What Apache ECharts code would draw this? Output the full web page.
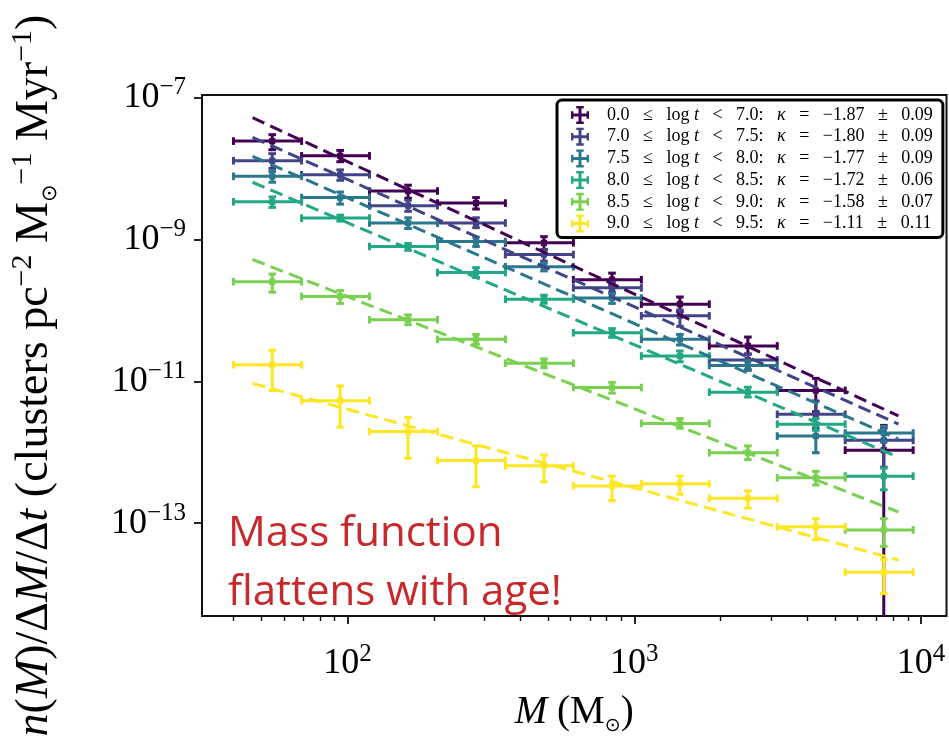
<!DOCTYPE html>
<html><head><meta charset="utf-8">
<script src="https://cdn.jsdelivr.net/npm/echarts@6/dist/echarts.min.js"></script>
<style>html,body{margin:0;padding:0;background:#fff}#c{width:949px;height:741px}</style>
</head><body><div id="c"></div><script>
// ---- data ----
const binEdges   = [40, 69.1, 119.2, 205.8, 355.1, 613, 1058, 1826, 3151, 5438, 9385];
const binCenters = [54.6, 94.2, 162.5, 280.5, 484, 836, 1442, 2489, 4295, 7412];

const ageLo = ['0.0', '7.0', '7.5', '8.0', '8.5', '9.0'];
const ageHi = ['7.0', '7.5', '8.0', '8.5', '9.0', '9.5'];
const kappa    = ['1.87', '1.80', '1.77', '1.72', '1.58', '1.11'];
const kappaErr = ['0.09', '0.09', '0.09', '0.06', '0.07', '0.11'];

const val0 = [2.42e-8, 1.50e-8, 4.79e-9, 3.24e-9, 8.92e-10, 2.70e-10, 1.22e-10, 3.15e-11, 7.43e-12, 1.07e-12];
const hi0  = [2.98e-8, 1.79e-8, 5.79e-9, 3.87e-9, 1.09e-9, 3.34e-10, 1.54e-10, 4.2e-11, 1.10e-11, 2.39e-12];
const lo0  = [1.83e-8, 1.24e-8, 3.79e-9, 2.67e-9, 7.14e-10, 2.23e-10, 9.57e-11, 2.42e-11, 3.73e-12, 1e-17];

const val1 = [1.28e-8, 8.11e-9, 2.98e-9, 1.70e-9, 6.10e-10, 2.07e-10, 8.35e-11, 2.00e-11, 3.42e-12, 1.47e-12];
const hi1  = [1.61e-8, 9.51e-9, 3.56e-9, 2.01e-9, 7.14e-10, 2.48e-10, 1.01e-10, 2.42e-11, 5.29e-12, 2.18e-12];
const lo1  = [1.00e-8, 6.79e-9, 2.48e-9, 1.46e-9, 4.93e-10, 1.80e-10, 5.94e-11, 1.43e-11, 2.18e-12, 6.15e-13];

const val2 = [7.71e-9, 3.87e-9, 1.70e-9, 9.29e-10, 4.11e-10, 1.49e-10, 3.90e-11, 1.67e-11, 1.69e-12, 1.87e-12];
const hi2  = [9.03e-9, 4.64e-9, 2.01e-9, 1.07e-9, 4.67e-10, 1.71e-10, 4.57e-11, 1.94e-11, 2.47e-12, 2.32e-12];
const lo2  = [6.37e-9, 3.13e-9, 1.42e-9, 7.93e-10, 3.59e-10, 1.25e-10, 3.25e-11, 1.46e-11, 9.84e-13, 1.40e-12];

const val3 = [3.38e-9, 1.99e-9, 7.93e-10, 3.40e-10, 1.43e-10, 4.82e-11, 2.27e-11, 7.03e-12, 2.49e-12, 4.6e-13];
const hi3  = [3.96e-9, 2.19e-9, 8.72e-10, 3.99e-10, 1.63e-10, 5.52e-11, 2.67e-11, 8.24e-12, 2.99e-12, 5.98e-13];
const lo3  = [2.82e-9, 1.81e-9, 6.99e-10, 2.90e-10, 1.26e-10, 4.16e-11, 1.88e-11, 6.0e-12, 2.04e-12, 2.95e-13];

const val4 = [2.53e-10, 1.57e-10, 7.35e-11, 3.90e-11, 1.80e-11, 8.16e-12, 2.55e-12, 9.84e-13, 4.36e-13, 8.04e-14];
const hi4  = [3.24e-10, 1.90e-10, 8.61e-11, 4.57e-11, 2.07e-11, 9.66e-12, 2.99e-12, 1.23e-12, 5.38e-13, 1.16e-13];
const lo4  = [1.80e-10, 1.25e-10, 6.27e-11, 3.33e-11, 1.55e-11, 6.81e-12, 2.18e-12, 7.88e-13, 3.46e-13, 4.73e-14];

const val5 = [1.71e-11, 5.33e-12, 1.96e-12, 7.64e-13, 6.45e-13, 3.35e-13, 3.6e-13, 2.24e-13, 8.91e-14, 2.04e-14];
const hi5  = [2.75e-11, 8.59e-12, 3.08e-12, 1.23e-12, 9.15e-13, 4.6e-13, 4.6e-13, 2.86e-13, 1.16e-13, 3.1e-14];
const lo5  = [7.42e-12, 2.25e-12, 8.22e-13, 3.27e-13, 3.84e-13, 2.08e-13, 2.57e-13, 1.63e-13, 5.85e-14, 1.02e-14];

// power-law fit lines: end points
const fitX  = [46.6, 8337];
const fit0  = [5.17e-8, 3.25e-12];
const fit1  = [2.74e-8, 2.50e-12];
const fit2  = [1.48e-8, 1.53e-12];
const fit3  = [6.37e-9, 8.51e-13];
const fit4  = [5.2e-10, 1.44e-13];
const fit5  = [9.35e-12, 3.03e-14];

const xTicks = [100, 1000, 10000];
const xMinorTicks = [40, 50, 60, 70, 80, 90, 200, 300, 400, 500, 600, 700, 800, 900, 2000, 3000, 4000, 5000, 6000, 7000, 8000, 9000];
const yTicks = [1e-13, 1e-11, 1e-9, 1e-7];

// ---- styling ----
const COLORS = ['#440154', '#414487', '#2a788e', '#22a884', '#7ad151', '#fde725'];
const SERIF = '"Liberation Serif", "DejaVu Serif", serif';
const vals = [val0, val1, val2, val3, val4, val5];
const his  = [hi0, hi1, hi2, hi3, hi4, hi5];
const los  = [lo0, lo1, lo2, lo3, lo4, lo5];
const fits = [fit0, fit1, fit2, fit3, fit4, fit5];

const names = ageLo.map((lo, i) => lo + ' ≤ log t < ' + ageHi[i] + ': κ = −' + kappa[i] + ' ± ' + kappaErr[i]);

function renderErr(params, api) {
  const cs = params.coordSys;
  const top = cs.y, bot = cs.y + cs.height;
  const c = api.coord([api.value(0), api.value(1)]);
  const l = api.coord([api.value(2), api.value(1)]);
  const r = api.coord([api.value(3), api.value(1)]);
  const ylo = api.coord([api.value(0), api.value(4)])[1];
  const yhi = api.coord([api.value(0), api.value(5)])[1];
  const color = api.visual('color');
  const lw = 3, cap = 3.8, m = 3.1;
  const ln = (x1, y1, x2, y2) => ({type: 'line', shape: {x1, y1, x2, y2}, style: {stroke: color, lineWidth: lw}});
  const kids = [
    ln(l[0], c[1], r[0], c[1]),
    ln(c[0], Math.min(ylo, bot + 3), c[0], Math.max(yhi, top)),
    ln(l[0], c[1] - cap, l[0], c[1] + cap),
    ln(r[0], c[1] - cap, r[0], c[1] + cap)
  ];
  if (ylo <= bot) kids.push(ln(c[0] - cap, ylo, c[0] + cap, ylo));
  if (yhi >= top) kids.push(ln(c[0] - cap, yhi, c[0] + cap, yhi));
  kids.push({type: 'rect', shape: {x: c[0] - m, y: c[1] - m, width: 2 * m, height: 2 * m}, style: {fill: color}});
  return {type: 'group', children: kids};
}

const series = [];
vals.forEach((v, i) => {
  series.push({
    name: names[i], type: 'custom', renderItem: renderErr, clip: true,
    itemStyle: {color: COLORS[i]},
    encode: {x: [0, 2, 3], y: [1, 4, 5]},
    data: v.map((y, k) => [binCenters[k], y, binEdges[k], binEdges[k + 1], los[i][k], his[i][k]]),
    silent: true
  });
  series.push({
    name: 'fit ' + i, type: 'line', showSymbol: false, silent: true,
    data: fitX.map((x, k) => [x, fits[i][k]]),
    lineStyle: {color: COLORS[i], width: 3, type: [13, 6.5], cap: 'butt'},
    itemStyle: {color: COLORS[i]}
  });
});

const ICON = 'path://M5,0h2v12h-2z M0,5h12v2h-12z M3.5,0h5v1.6h-5z M3.5,10.4h5v1.6h-5z M0,3.5h1.6v5h-1.6z M10.4,3.5h1.6v5h-1.6z';

function powLabel(v) {
  const e = Math.round(Math.log10(v));
  return '{b|10}{s|' + (e < 0 ? '−' + (-e) : String(e)) + '}';
}
const tickRich = {
  b: {fontFamily: SERIF, fontSize: 36, lineHeight: 44, color: '#000'},
  s: {fontFamily: SERIF, fontSize: 25, lineHeight: 25, verticalAlign: 'top', color: '#000'}
};

const option = {
  animation: false,
  backgroundColor: '#fff',
  grid: {left: 200, top: 95, width: 746.5, height: 533, show: true, borderColor: '#111', borderWidth: 2, backgroundColor: 'transparent', containLabel: false},
  xAxis: [{
    type: 'log', logBase: 10, min: 31.06, max: 12266,
    position: 'bottom',
    axisLine: {show: false},
    splitLine: {show: false},
    axisTick: {show: true, inside: false, length: 8, customValues: xTicks, lineStyle: {color: '#111', width: 1.8}},
    axisLabel: {show: true, customValues: xTicks, formatter: powLabel, margin: 26, rich: tickRich},
    name: '{i|M}{n| (M}{sub|⊙}{n|)}',
    nameLocation: 'middle', nameGap: 74,
    nameTextStyle: {verticalAlign: 'top', rich: {
      i: {fontFamily: SERIF, fontStyle: 'italic', fontSize: 39, lineHeight: 46, color: '#000'},
      n: {fontFamily: SERIF, fontSize: 39, lineHeight: 46, color: '#000'},
      sub: {fontFamily: '"DejaVu Sans", sans-serif', fontSize: 19, lineHeight: 24, verticalAlign: 'bottom', color: '#000'}
    }}
  }, {
    type: 'log', logBase: 10, min: 31.06, max: 12266,
    position: 'bottom', gridIndex: 0,
    axisLine: {show: false}, splitLine: {show: false}, axisLabel: {show: false},
    axisTick: {show: true, inside: false, length: 5, customValues: xMinorTicks, lineStyle: {color: '#111', width: 1.4}}
  }],
  yAxis: {
    type: 'log', logBase: 10, min: 4.93e-15, max: 1.08e-7,
    axisLine: {show: false},
    splitLine: {show: false},
    axisTick: {show: true, inside: false, length: 8, customValues: yTicks, lineStyle: {color: '#111', width: 1.8}},
    axisLabel: {show: true, customValues: yTicks, formatter: powLabel, margin: 16, rich: tickRich},
    name: '{i|n}{n|(}{i|M}{n|)/Δ}{i|M}{n|/Δ}{i|t}{n| (clusters pc}{s|−2}{n| M}{sub|⊙}{s|−1}{n| Myr}{s|−1}{n|)}',
    nameLocation: 'middle', nameGap: 141, nameRotate: 90,
    nameTextStyle: {padding: [0, 40, 0, 0], rich: {
      i: {fontFamily: SERIF, fontStyle: 'italic', fontSize: 46, lineHeight: 53, color: '#000'},
      n: {fontFamily: SERIF, fontSize: 46, lineHeight: 53, color: '#000'},
      s: {fontFamily: SERIF, fontSize: 30, lineHeight: 30, verticalAlign: 'top', color: '#000'},
      sub: {fontFamily: '"DejaVu Sans", sans-serif', fontSize: 21, lineHeight: 26, verticalAlign: 'bottom', color: '#000'}
    }}
  },
  legend: {
    data: names.map((n, i) => ({name: n, icon: ICON, itemStyle: {color: COLORS[i]}})),
    orient: 'vertical', left: 557, top: 100,
    itemWidth: 18, itemHeight: 18, itemGap: 3.7,
    padding: [6, 10, 5, 14],
    borderColor: '#000', borderWidth: 3, borderRadius: 5, backgroundColor: '#fff',
    selectedMode: false,
    textStyle: {fontFamily: SERIF, fontSize: 18, color: '#000', rich: {
      f: {fontFamily: SERIF, fontSize: 18, lineHeight: 18, color: '#000', padding: [0, 0, 0, 13]},
      n: {fontFamily: SERIF, fontSize: 18, lineHeight: 18, color: '#000'},
      i: {fontFamily: SERIF, fontSize: 18, lineHeight: 18, fontStyle: 'italic', color: '#000'}
    }},
    formatter: function (name) {
      const i = names.indexOf(name);
      return '{f|' + ageLo[i] + '}{n|   ≤   log }{i|t}{n|   <   ' + ageHi[i] + ':   }{i|κ}{n|   =   −' + kappa[i] + '   ±   ' + kappaErr[i] + '}';
    }
  },
  graphic: [
    {type: 'text', left: 228, top: 513, silent: true, style: {text: 'Mass function', font: '42px "Open Sans"', fill: '#c9282a'}},
    {type: 'text', left: 228, top: 572.5, silent: true, style: {text: 'flattens with age!', font: '42px "Open Sans"', fill: '#c9282a'}}
  ],
  series: series
};

const chart = echarts.init(document.getElementById('c'), null, {renderer: 'canvas'});
chart.setOption(option);
</script></body></html>
